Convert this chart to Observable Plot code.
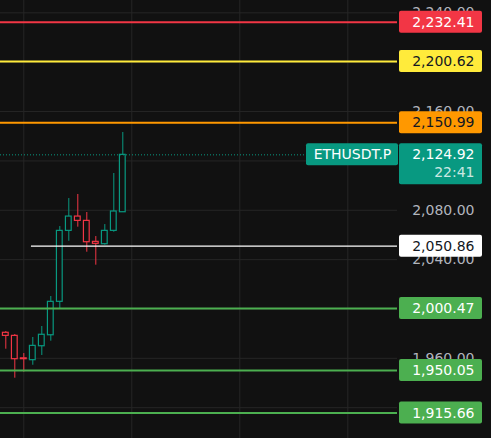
<!DOCTYPE html>
<html><head><meta charset="utf-8">
<script src="https://cdn.jsdelivr.net/npm/d3@7"></script>
<script src="https://cdn.jsdelivr.net/npm/@observablehq/plot@0.6"></script>
<style>html,body{margin:0;padding:0;background:#111111;overflow:hidden}</style>
</head><body><div id="chart"></div>
<script>
// ---- data ----
const barIndex = [0,1,2,3,4,5,6,7,8,9,10,11,12,13];
const open  = [1980.7,1978.2,1960.0,1958.5,1969.8,1978.7,2005.8,2063.3,2074.9,2071.4,2054.4,2052.5,2063.3,2078.4];
const high  = [1981.7,1979.3,1963.9,1976.9,1985.8,2010.1,2066.8,2089.5,2092.8,2078.2,2058.7,2068.4,2109.8,2143.0];
const low   = [1967.4,1943.9,1948.8,1954.4,1962.3,1973.9,2000.1,2054.9,2066.3,2046.0,2035.5,2051.7,2062.2,2078.4];
const close = [1978.2,1959.3,1959.3,1970.1,1979.1,2005.8,2063.3,2074.9,2071.4,2054.1,2052.8,2063.3,2079.0,2124.92];

const levelValues = [2232.41, 2200.62, 2150.99, 2000.47, 1950.05, 1915.66];
const levelColors = ["#f23645", "#ffeb3b", "#ff9800", "#4caf50", "#4caf50", "#4caf50"];
const levelTextColors = ["#ffffff", "#131722", "#131722", "#ffffff", "#ffffff", "#ffffff"];

const rayValue = 2050.86;
const rayStartBar = 2.85;

const symbol = "ETHUSDT.P";
const lastPrice = 2124.92;
const countdown = "22:41";

const yTicks = [1920, 1960, 2000, 2040, 2080, 2120, 2160, 2200, 2240];
const xGridBars = [2, 14, 26, 38];

// ---- build tables ----
const candles = barIndex.map((i, k) => ({i, open: open[k], high: high[k], low: low[k], close: close[k]}));
const levels = levelValues.map((v, k) => ({v, color: levelColors[k], text: levelTextColors[k]}));
const fmt = d3.format(",.2f");

const UP = "#089981", DOWN = "#f23645", BG = "#111111";
const FONT = "DejaVu Sans";
const xDomain = [-0.589, 43.52];

const chart = Plot.plot({
  width: 491, height: 438,
  marginLeft: 0, marginRight: 94, marginTop: 0, marginBottom: 0,
  style: {background: BG, fontFamily: FONT, fontSize: "14px", overflow: "visible"},
  x: {domain: xDomain, axis: null},
  y: {domain: [1895.03, 2250], axis: null},
  marks: [
    Plot.gridY(yTicks, {stroke: "#262626", strokeOpacity: 1}),
    Plot.gridX(xGridBars, {stroke: "#262626", strokeOpacity: 1}),
    Plot.axisY(yTicks, {anchor: "right", tickSize: 0, tickPadding: 0, tickFormat: fmt,
      textAnchor: "end", dx: 77, color: "#b2b5be", fontSize: 14, fontFamily: FONT, label: null}),
    // wicks
    Plot.ruleX(candles, {x: "i", y1: "low", y2: "high",
      stroke: d => d.close >= d.open ? UP : DOWN, strokeWidth: 1}),
    // hollow bodies
    Plot.rect(candles, {x1: d => d.i - 0.32, x2: d => d.i + 0.32, y1: "open", y2: "close",
      fill: BG, stroke: d => d.close >= d.open ? UP : DOWN, strokeWidth: 1.2}),
    // level lines
    Plot.ruleY(levels, {y: "v", stroke: "color", strokeWidth: 2}),
    Plot.ruleY([rayValue], {y: d => d, x1: rayStartBar, x2: xDomain[1], stroke: "#ffffff", strokeWidth: 1.3}),
    Plot.ruleY([lastPrice], {y: d => d, stroke: UP, strokeWidth: 1, strokeDasharray: "1,2"}),
    // level labels
    Plot.rect(levels, {y1: "v", y2: "v", insetTop: -11, insetBottom: -11, insetLeft: 399, insetRight: -85,
      fill: "color", rx: 2}),
    Plot.text(levels, {y: "v", text: d => fmt(d.v), fill: "text", frameAnchor: "right",
      textAnchor: "end", dx: 77, fontSize: 14, fontFamily: FONT}),
    Plot.rect([rayValue], {y1: d => d, y2: d => d, insetTop: -11, insetBottom: -11, insetLeft: 399, insetRight: -85,
      fill: "#ffffff", rx: 2}),
    Plot.text([rayValue], {y: d => d, text: d => fmt(d), fill: "#131722", frameAnchor: "right",
      textAnchor: "end", dx: 77, fontSize: 14, fontFamily: FONT}),
    // symbol label
    Plot.rect([lastPrice], {y1: d => d, y2: d => d, insetTop: -11, insetBottom: -11, insetLeft: 306, insetRight: -1,
      fill: UP, rx: 2}),
    Plot.text([symbol], {y: () => lastPrice, text: d => d, fill: "#ffffff", frameAnchor: "right",
      textAnchor: "middle", dx: -45, fontSize: 14, fontFamily: FONT}),
    // last price label with countdown
    Plot.rect([lastPrice], {y1: d => d, y2: d => d, insetTop: -11, insetBottom: -30, insetLeft: 399, insetRight: -85,
      fill: UP, rx: 2}),
    Plot.text([lastPrice], {y: d => d, text: d => fmt(d), fill: "#ffffff", frameAnchor: "right",
      textAnchor: "end", dx: 77, fontSize: 14, fontFamily: FONT}),
    Plot.text([countdown], {y: () => lastPrice, text: d => d, fill: "#ffffff", fillOpacity: 0.8, frameAnchor: "right",
      textAnchor: "end", dx: 77, dy: 17.5, fontSize: 14, fontFamily: FONT})
  ]
});
document.getElementById("chart").appendChild(chart);
</script></body></html>
